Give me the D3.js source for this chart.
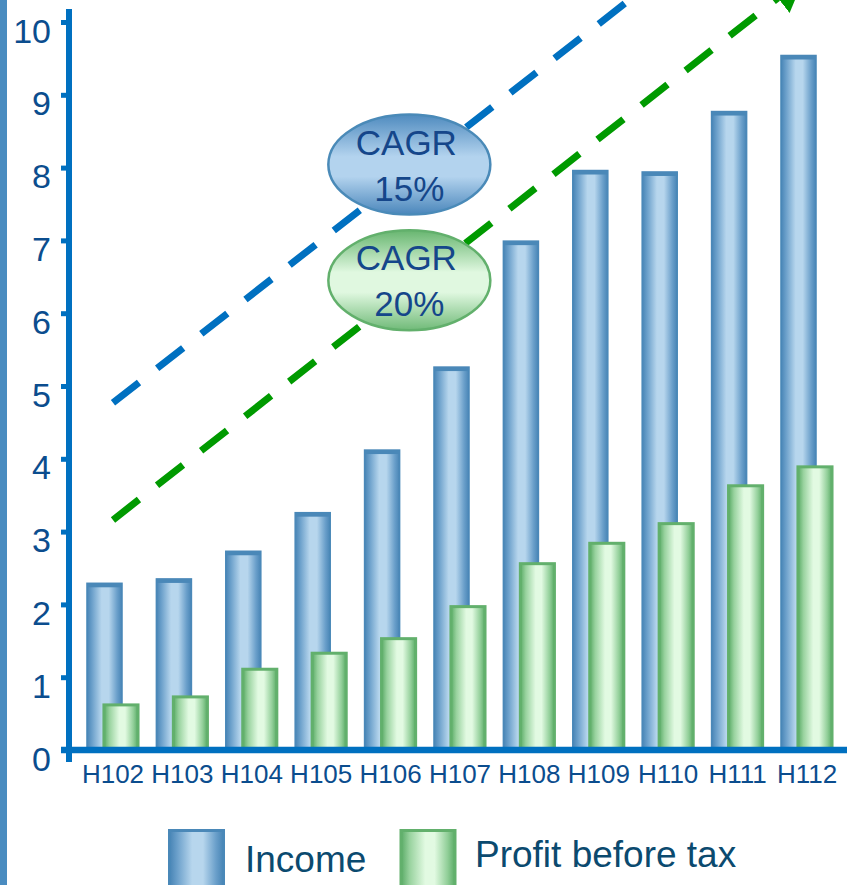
<!DOCTYPE html>
<html>
<head>
<meta charset="utf-8">
<script src="https://cdn.jsdelivr.net/npm/d3@7"></script>
<style>
  html, body { margin: 0; padding: 0; background: #fff; }
  svg { display: block; font-family: "Liberation Sans", Arial, sans-serif; }
</style>
</head>
<body>
<svg id="chart" width="847" height="885"></svg>
<script>
// Half-year periods
const categories = ["H102", "H103", "H104", "H105", "H106", "H107", "H108", "H109", "H110", "H111", "H112"];
// Income per period
const income = [2.29, 2.35, 2.73, 3.26, 4.12, 5.26, 6.99, 7.96, 7.94, 8.77, 9.54];
// Profit before tax per period
const profit = [0.64, 0.75, 1.13, 1.35, 1.55, 1.99, 2.58, 2.86, 3.13, 3.65, 3.91];
// Value axis ticks
const yTicks = [0, 1, 2, 3, 4, 5, 6, 7, 8, 9, 10];
// Growth trend arrows: [period index, value] at each end
const trendIncome = [[0, 4.77], [8.5, 11.09]];
const trendProfit = [[0, 3.16], [9.58, 10.33]];
// Growth rate callouts
const cagrLabels = ["15%", "20%"];
const seriesNames = ["Income", "Profit before tax"];

const svg = d3.select("#chart");
const W = 847, H = 885;

const x = d3.scaleBand().domain(categories).range([78.3, 841.7]);
const bw = x.bandwidth();
const y = d3.scaleLinear().domain([0, 10]).range([750, 22]);
const xi = d3.scaleLinear().domain([0, categories.length - 1])
  .range([x(categories[0]) + bw / 2, x(categories[categories.length - 1]) + bw / 2]);

const defs = svg.append("defs");
function hGrad(id, stops) {
  const g = defs.append("linearGradient").attr("id", id)
    .attr("x1", 0).attr("x2", 1).attr("y1", 0).attr("y2", 0);
  stops.forEach(([o, c]) => g.append("stop").attr("offset", o).attr("stop-color", c));
}
function vGrad(id, stops) {
  const g = defs.append("linearGradient").attr("id", id)
    .attr("x1", 0).attr("x2", 0).attr("y1", 0).attr("y2", 1);
  stops.forEach(([o, c]) => g.append("stop").attr("offset", o).attr("stop-color", c));
}
hGrad("gBlue", [[0, "#4784b5"], [0.14, "#6a9fca"], [0.42, "#b7d6ed"], [0.62, "#b7d6ed"], [0.86, "#6a9fca"], [1, "#4784b5"]]);
hGrad("gGreen", [[0, "#5aab66"], [0.16, "#98d29e"], [0.45, "#e2fae2"], [0.62, "#e2fae2"], [0.86, "#92cf99"], [1, "#5aab66"]]);
vGrad("eBlue", [[0, "#4f8bbf"], [0.42, "#b3d3ee"], [0.62, "#b3d3ee"], [1, "#4a86bb"]]);
vGrad("eGreen", [[0, "#68b670"], [0.42, "#e0f8e0"], [0.62, "#e0f8e0"], [1, "#70ba78"]]);

function marker(id, color) {
  defs.append("marker").attr("id", id)
    .attr("markerUnits", "userSpaceOnUse")
    .attr("viewBox", "0 -20 36 40")
    .attr("markerWidth", 36).attr("markerHeight", 40)
    .attr("refX", 0).attr("refY", 0)
    .attr("orient", "auto")
    .append("path").attr("d", "M0,-19L34,0L0,19Z").attr("fill", color);
}
marker("arrowBlue", "#0070c0");
marker("arrowGreen", "#009a00");

// Left frame rule
svg.append("rect").attr("x", 0).attr("y", 0).attr("width", 7).attr("height", H).attr("fill", "#4a8cc0");

// Bars
const incomeG = svg.append("g");
incomeG.selectAll("rect.bar").data(categories).join("rect").attr("class", "bar")
  .attr("x", d => x(d) + 0.125 * bw)
  .attr("y", (d, i) => y(income[i]))
  .attr("width", 0.505 * bw)
  .attr("height", (d, i) => y(0) - y(income[i]))
  .attr("fill", "url(#gBlue)")
  .attr("stroke", "#4a88b8").attr("stroke-width", 1.5);
incomeG.selectAll("rect.cap").data(categories).join("rect").attr("class", "cap")
  .attr("x", d => x(d) + 0.125 * bw)
  .attr("y", (d, i) => y(income[i]))
  .attr("width", 0.505 * bw)
  .attr("height", 4)
  .attr("fill", "#4a88b8");

const profitG = svg.append("g");
profitG.selectAll("rect").data(categories).join("rect")
  .attr("x", d => x(d) + 0.355 * bw + 1)
  .attr("y", (d, i) => y(profit[i]) + 1.5)
  .attr("width", 0.52 * bw - 2)
  .attr("height", (d, i) => y(0) - y(profit[i]) - 1.5)
  .attr("fill", "url(#gGreen)")
  .attr("stroke", "#62b06c").attr("stroke-width", 3);

// Trend arrows
const line = d3.line().x(d => xi(d[0])).y(d => y(d[1]));
svg.append("path").attr("d", line(trendIncome))
  .attr("fill", "none").attr("stroke", "#0070c0").attr("stroke-width", 7)
  .attr("stroke-dasharray", "33 23").attr("marker-end", "url(#arrowBlue)");
svg.append("path").attr("d", line(trendProfit))
  .attr("fill", "none").attr("stroke", "#009a00").attr("stroke-width", 7)
  .attr("stroke-dasharray", "33 23").attr("marker-end", "url(#arrowGreen)");

// CAGR callouts sitting on each trend
const calloutIdx = 4.27;
function valueAt(tr, t) {
  const [a, b] = tr;
  return a[1] + (b[1] - a[1]) * (t - a[0]) / (b[0] - a[0]);
}
[[trendIncome, "eBlue", "#4a8ab8"], [trendProfit, "eGreen", "#62b06c"]].forEach(([tr, fill, stroke], k) => {
  const cx = xi(calloutIdx);
  const cy = y(valueAt(tr, calloutIdx)) - 7;
  const g = svg.append("g").attr("transform", `translate(${cx},${cy})`);
  g.append("ellipse").attr("rx", 81).attr("ry", 50)
    .attr("fill", `url(#${fill})`).attr("stroke", stroke).attr("stroke-width", 2.5);
  g.append("text").attr("x", -3).attr("y", -10).attr("text-anchor", "middle")
    .attr("font-size", 35).attr("fill", "#15468a").text("CAGR");
  g.append("text").attr("x", 0).attr("y", 36).attr("text-anchor", "middle")
    .attr("font-size", 35).attr("fill", "#15468a").text(cagrLabels[k]);
});

// Value axis
const yAxis = svg.append("g").attr("transform", "translate(69,0)")
  .call(d3.axisLeft(y).tickValues(yTicks).tickSize(8).tickPadding(10).tickFormat(d3.format("d")));
yAxis.select(".domain").remove();
yAxis.selectAll(".tick line").attr("stroke", "#0070c0").attr("stroke-width", 5);
yAxis.selectAll(".tick text").attr("font-size", 34).attr("fill", "#0b4d8e")
  .attr("dy", 20).attr("font-family", "Liberation Sans, Arial, sans-serif");
svg.append("line").attr("x1", 69).attr("x2", 69).attr("y1", y(10) - 13).attr("y2", y(0) + 12)
  .attr("stroke", "#0070c0").attr("stroke-width", 6);

// Category axis
const xAxis = svg.append("g").attr("transform", `translate(0,${y(0)})`)
  .call(d3.axisBottom(x).tickSize(0).tickPadding(0));
xAxis.select(".domain").remove();
xAxis.selectAll(".tick text").attr("font-size", 26).attr("fill", "#0b4d8e")
  .attr("dy", 33).attr("font-family", "Liberation Sans, Arial, sans-serif");
svg.append("line").attr("x1", 61).attr("x2", W).attr("y1", y(0)).attr("y2", y(0))
  .attr("stroke", "#0070c0").attr("stroke-width", 6.5);

// Legend
const legend = [
  { name: seriesNames[0], fill: "url(#gBlue)", stroke: "#4a88b8", sx: 168, tx: 245, ty: 872 },
  { name: seriesNames[1], fill: "url(#gGreen)", stroke: "#62b06c", sx: 399.5, tx: 475, ty: 867 }
];
const lg = svg.append("g");
legend.forEach(L => {
  lg.append("rect").attr("x", L.sx + 1.5).attr("y", 830.5).attr("width", 54).attr("height", 60)
    .attr("fill", L.fill).attr("stroke", L.stroke).attr("stroke-width", 3);
  lg.append("text").attr("x", L.tx).attr("y", L.ty).attr("font-size", 37)
    .attr("fill", "#0b4a6f").text(L.name);
});
</script>
</body>
</html>
